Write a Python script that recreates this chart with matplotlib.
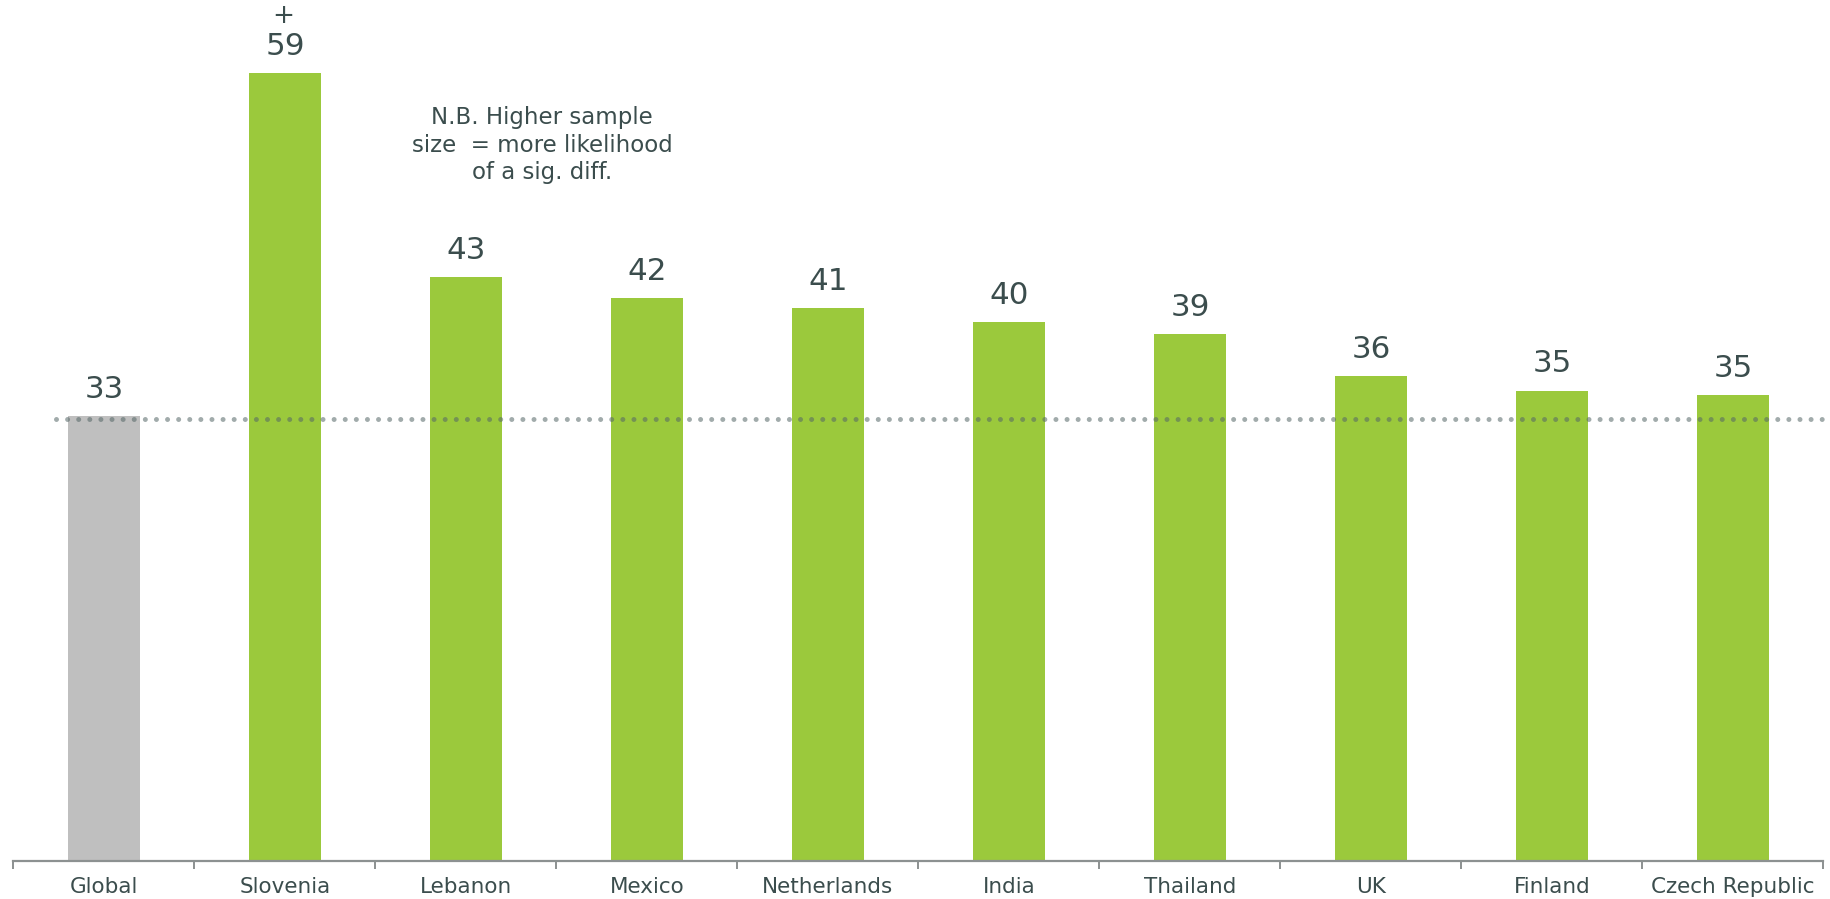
import matplotlib
matplotlib.use("Agg")
import matplotlib.pyplot as plt

categories = ["Global", "Slovenia", "Lebanon", "Mexico", "Netherlands", "India",
              "Thailand", "UK", "Finland", "Czech Republic"]
values = [33.0, 58.5, 43.3, 41.8, 41.0, 40.0, 39.1, 36.0, 34.9, 34.6]
labels = ["33", "59", "43", "42", "41", "40", "39", "36", "35", "35"]
sig_marks = ["", "+", "", "", "", "", "", "", "", ""]
global_ref = 32.8
note = "N.B. Higher sample\nsize  = more likelihood\nof a sig. diff."

TEXT = "#3b4d4d"
GREEN = "#9bc93c"
GREY = "#bfbfbf"

fig = plt.figure(figsize=(18.3, 8.99), dpi=100)
ax = fig.add_axes([13.4 / 1830, 38.5 / 899, 1810 / 1830, 860.5 / 899])

x = list(range(len(categories)))
colors = [GREY] + [GREEN] * (len(categories) - 1)
bars = ax.bar(x, values, width=0.40, color=colors, zorder=2)

ax.set_xlim(-0.5, len(categories) - 0.5)
ax.set_ylim(0, 63.9)

# dotted reference line
ax.plot([-0.265, 9.5], [global_ref, global_ref], color=(0.33, 0.40, 0.40), alpha=0.55,
        linewidth=3.6, linestyle=(0, (0.001, 2.22)), dash_capstyle="round", zorder=3,
        clip_on=False)

for xi, v, lab, s in zip(x, values, labels, sig_marks):
    ax.annotate(lab, (xi, v), xytext=(0, 13), textcoords="offset points",
                ha="center", va="baseline", fontsize=22.3, color=TEXT)
    if s:
        ax.annotate(s, (xi, v), xytext=(-1.5, 41), textcoords="offset points",
                    ha="center", va="center", fontsize=19, color=TEXT)

ax.text(2.42, 56.0, note, ha="center", va="top", fontsize=16.5, color=TEXT,
        linespacing=1.24)

for sp in ["top", "right", "left"]:
    ax.spines[sp].set_visible(False)
ax.spines["bottom"].set_color("#8c9191")
ax.spines["bottom"].set_linewidth(1.6)
ax.set_yticks([])
ax.set_xticks([i - 0.5 for i in range(len(categories) + 1)])
ax.set_xticklabels([])
ax.set_xticks(x, minor=True)
ax.set_xticklabels(categories, minor=True, fontsize=15.5, color=TEXT)
ax.tick_params(axis="x", which="major", length=6, width=1.4, color="#8c9191", direction="out")
ax.tick_params(axis="x", which="minor", length=0, pad=12)

fig.savefig("out.png", dpi=100, facecolor="white")
